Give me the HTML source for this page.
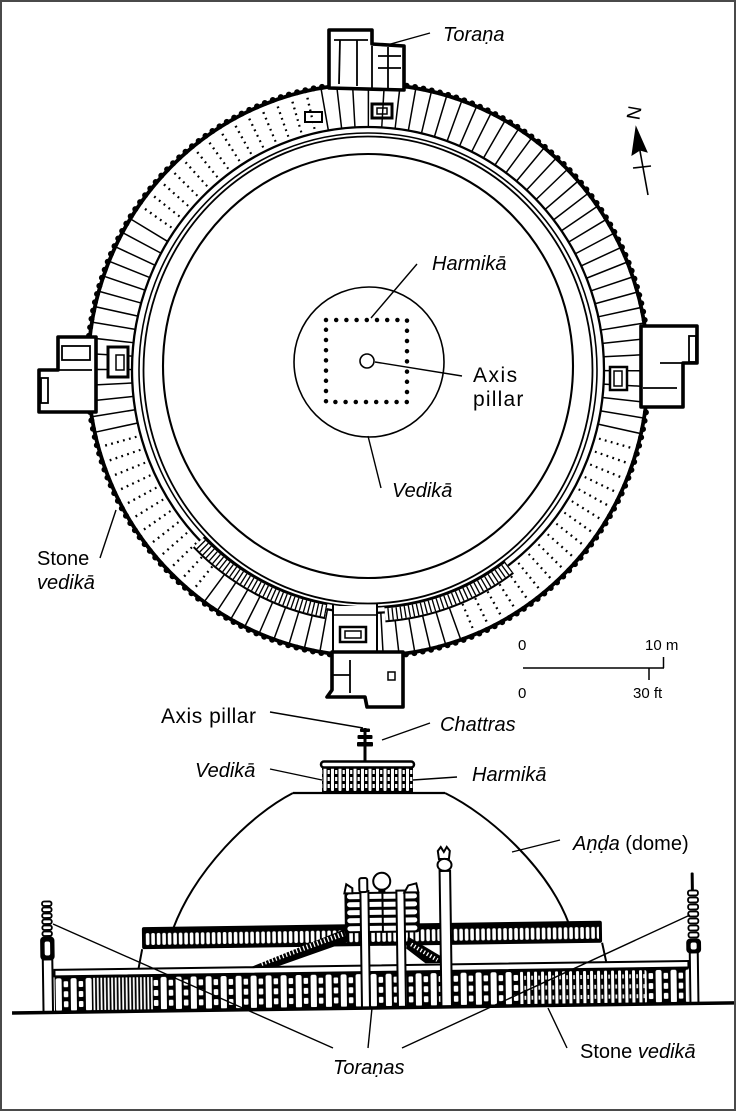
<!DOCTYPE html>
<html><head><meta charset="utf-8">
<style>
html,body{margin:0;padding:0;background:#fff;}
svg{display:block;}
text{font-family:"Liberation Sans","DejaVu Sans",sans-serif;fill:#000;}
.it{font-style:italic;}
</style></head><body>
<svg width="736" height="1111" viewBox="0 0 736 1111" xmlns="http://www.w3.org/2000/svg">
<defs>
 <mask id="mSolid" maskUnits="userSpaceOnUse" x="-400" y="-400" width="800" height="800">
  <ellipse rx="258" ry="264.5" fill="none" stroke="#fff" stroke-width="64" pathLength="360" stroke-dasharray="14 54 60 37 50 43 102"/>
 </mask>
 <mask id="mDot" maskUnits="userSpaceOnUse" x="-400" y="-400" width="800" height="800">
  <ellipse rx="258" ry="264.5" fill="none" stroke="#fff" stroke-width="64" pathLength="360" stroke-dasharray="0 14 54 60 37 50 43 102"/>
 </mask>
 <mask id="mStair" maskUnits="userSpaceOnUse" x="-400" y="-400" width="800" height="800">
  <ellipse rx="238" ry="245" fill="none" stroke="#fff" stroke-width="30" pathLength="360" stroke-dasharray="0 54 32 14 35 225"/>
 </mask>
 <pattern id="r1" patternUnits="userSpaceOnUse" x="55" y="972" width="15" height="36">
  <rect x="1" y="2" width="6" height="33" rx="2" fill="#fff"/>
  <rect x="9" y="5" width="4.5" height="6" rx="1" fill="#fff"/>
  <rect x="9" y="15" width="4.5" height="6" rx="1" fill="#fff"/>
  <rect x="9" y="25" width="4.5" height="6" rx="1" fill="#fff"/>
 </pattern>
 <pattern id="r2" patternUnits="userSpaceOnUse" x="93" y="972" width="3.6" height="36">
  <rect x="0.6" y="2" width="1.8" height="33" fill="#fff"/>
 </pattern>
 <pattern id="r3" patternUnits="userSpaceOnUse" x="520" y="972" width="7" height="36">
  <rect x="0.5" y="2" width="3" height="33" rx="1" fill="#fff"/>
  <rect x="4.7" y="6" width="1.6" height="4" fill="#fff"/>
  <rect x="4.7" y="16" width="1.6" height="4" fill="#fff"/>
  <rect x="4.7" y="26" width="1.6" height="4" fill="#fff"/>
 </pattern>
 <pattern id="r4" patternUnits="userSpaceOnUse" x="146" y="929" width="5.5" height="14">
  <rect x="0.8" y="1" width="3.6" height="12" rx="1.6" fill="#fff"/>
 </pattern>
 <pattern id="r5" patternUnits="userSpaceOnUse" x="323" y="767" width="7.5" height="25">
  <rect x="0.5" y="1" width="3" height="23" rx="1" fill="#fff"/>
  <rect x="4.6" y="3" width="2.2" height="4" fill="#fff"/>
  <rect x="4.6" y="10" width="2.2" height="4" fill="#fff"/>
  <rect x="4.6" y="17" width="2.2" height="4" fill="#fff"/>
 </pattern>
</defs>

<rect x="0" y="0" width="736" height="1111" fill="#fff"/>

<!-- ================= PLAN ================= -->
<g transform="translate(368,370)" fill="none" stroke="#000">
 <ellipse rx="258" ry="264.5" stroke-width="44" pathLength="360" stroke-dasharray="0.33 2.8843" mask="url(#mSolid)"/>
 <g mask="url(#mDot)" stroke-width="1.8" stroke-dasharray="0.5 2.7143">
  <ellipse rx="241.3" ry="248.2" pathLength="360"/>
  <ellipse rx="247.4" ry="254.2" pathLength="360"/>
  <ellipse rx="253.6" ry="260.2" pathLength="360"/>
  <ellipse rx="259.8" ry="266.2" pathLength="360"/>
  <ellipse rx="265.9" ry="272.2" pathLength="360"/>
  <ellipse rx="272.1" ry="278.3" pathLength="360"/>
 </g>
 <ellipse rx="280" ry="286" stroke-width="3.8"/>
 <ellipse rx="281" ry="287" stroke-width="6" stroke-dasharray="0 8.5" stroke-linecap="round"/>
 <ellipse rx="236" ry="243" stroke-width="2.3"/>
 <ellipse rx="229" ry="237" stroke-width="1.6"/>
 <ellipse rx="224.5" ry="233.5" stroke-width="1.8"/>
 <ellipse cx="0" cy="-4" rx="205" ry="212" stroke-width="2.1"/>
 <ellipse rx="238" ry="245" stroke="#fff" stroke-width="15" mask="url(#mStair)"/>
 <ellipse rx="238" ry="245" stroke-width="12" pathLength="360" stroke-dasharray="0.32 0.68" mask="url(#mStair)"/>
 <ellipse rx="231" ry="238" stroke-width="2" pathLength="360" stroke-dasharray="0 54 32 14 35 225"/>
 <ellipse rx="245" ry="252" stroke-width="2" pathLength="360" stroke-dasharray="0 54 32 14 35 225"/>
</g>

<!-- south landing -->
<rect x="334" y="606" width="43" height="46" fill="#fff"/>
<g fill="none" stroke="#000">
 <line x1="333" y1="604" x2="333" y2="655" stroke-width="2"/>
 <line x1="377" y1="604" x2="377" y2="655" stroke-width="2"/>
 <rect x="340" y="627" width="26" height="15" stroke-width="2.5"/>
 <rect x="345" y="631" width="16" height="7" stroke-width="1.5"/>
 <line x1="333" y1="615" x2="377" y2="615" stroke-width="1.5"/>
</g>

<!-- gates -->
<g fill="#fff" stroke="#000" stroke-width="3.6" stroke-linejoin="round">
 <polygon points="329,88 329,30 372,30 372,44 404,46 404,90"/>
 <polygon points="96,337 58,337 58,370 39,370 39,412 96,412"/>
 <polygon points="641,326 697,326 697,363 683,363 683,407 641,407"/>
 <polygon points="332,652 332,690 327,697 365,697 367,707 403,707 403,652"/>
</g>
<g fill="none" stroke="#000" stroke-width="1.8">
 <line x1="334" y1="40" x2="368" y2="40"/>
 <line x1="340" y1="40" x2="339" y2="84"/>
 <line x1="357" y1="40" x2="357" y2="86"/>
 <line x1="372" y1="46" x2="372" y2="88"/>
 <line x1="378" y1="56" x2="401" y2="56"/>
 <line x1="378" y1="68" x2="401" y2="68"/>
 <line x1="388" y1="47" x2="388" y2="88"/>
 <rect x="372" y="104" width="20" height="14" stroke-width="3"/>
 <rect x="377" y="108" width="10" height="6" stroke-width="1.5"/>
 <rect x="305" y="112" width="17" height="10" stroke-width="2"/>
 <rect x="62" y="346" width="28" height="14"/>
 <line x1="58" y1="370" x2="92" y2="370"/>
 <rect x="41" y="378" width="7" height="25"/>
 <rect x="108" y="347" width="20" height="30" stroke-width="3" fill="#fff"/>
 <rect x="116" y="355" width="8" height="15" stroke-width="1.5"/>
 <rect x="689" y="336" width="7" height="26"/>
 <line x1="643" y1="388" x2="677" y2="388"/>
 <line x1="660" y1="363" x2="683" y2="363"/>
 <rect x="610" y="367" width="17" height="23" stroke-width="2.5" fill="#fff"/>
 <rect x="614" y="371" width="8" height="15" stroke-width="1.5"/>
 <line x1="350" y1="660" x2="350" y2="693"/>
 <line x1="333" y1="675" x2="350" y2="675"/>
 <rect x="388" y="672" width="7" height="8" stroke-width="1.5"/>
</g>

<!-- vedika circle, harmika, axis -->
<circle cx="369" cy="362" r="75" fill="none" stroke="#000" stroke-width="1.6"/>
<rect x="326" y="320" width="81" height="82" fill="none" stroke="#000" stroke-width="4.5" stroke-dasharray="0 10.2" stroke-linecap="round"/>
<circle cx="367" cy="361" r="7" fill="#fff" stroke="#000" stroke-width="1.6"/>

<!-- plan leaders -->
<g stroke="#000" stroke-width="1.4" fill="none">
 <line x1="430" y1="33" x2="387" y2="45"/>
 <line x1="417" y1="264" x2="371" y2="318"/>
 <line x1="375" y1="362" x2="462" y2="376"/>
 <line x1="368" y1="436" x2="381" y2="488"/>
 <line x1="100" y1="558" x2="116" y2="510"/>
</g>

<!-- north arrow -->
<g stroke="#000" fill="#000">
 <line x1="638" y1="140" x2="648" y2="195" stroke-width="1.6"/>
 <polygon points="636,127 632,155 640,150 647,152" stroke-width="1"/>
 <line x1="633" y1="168" x2="651" y2="166" stroke-width="1.6"/>
</g>
<text x="635" y="113" font-size="19" text-anchor="middle" dominant-baseline="central" transform="rotate(-80 635 113)">N</text>

<!-- plan labels -->
<text class="it" x="443" y="41" font-size="20">Toraṇa</text>
<text class="it" x="432" y="270" font-size="20">Harmikā</text>
<text x="473" y="382" font-size="21" letter-spacing="1.5">Axis</text>
<text x="473" y="406" font-size="21" letter-spacing="1.2">pillar</text>
<text class="it" x="392" y="497" font-size="20">Vedikā</text>
<text x="37" y="565" font-size="20">Stone</text>
<text class="it" x="37" y="589" font-size="20">vedikā</text>

<!-- scale -->
<g stroke="#000" stroke-width="1.5">
 <line x1="523" y1="668" x2="664" y2="668"/>
 <line x1="663.5" y1="657" x2="663.5" y2="668"/>
 <line x1="649" y1="668" x2="649" y2="680"/>
</g>
<text x="518" y="650" font-size="15">0</text>
<text x="645" y="650" font-size="15">10 m</text>
<text x="518" y="698" font-size="15">0</text>
<text x="633" y="698" font-size="15">30 ft</text>

<!-- ================= ELEVATION ================= -->
<path d="M293,793 C250,815 195,870 173,929" fill="none" stroke="#000" stroke-width="2"/>
<path d="M445,793 C490,815 548,868 569,924" fill="none" stroke="#000" stroke-width="2"/>
<line x1="293" y1="793" x2="445" y2="793" stroke="#000" stroke-width="2.2"/>

<rect x="322" y="767" width="91" height="25" fill="#000"/>
<rect x="322" y="767" width="91" height="25" fill="url(#r5)"/>
<rect x="321" y="761.5" width="93" height="6" rx="3" fill="#fff" stroke="#000" stroke-width="2.5"/>
<g fill="#000">
 <rect x="363.5" y="728" width="3" height="34"/>
 <rect x="360" y="728.5" width="10" height="3.5" rx="1"/>
 <rect x="357.5" y="735" width="15" height="4" rx="1"/>
 <rect x="357" y="742" width="16" height="4.5" rx="1"/>
</g>

<g transform="rotate(-0.8 369 1008)">
 <line x1="143" y1="946" x2="139" y2="966" stroke="#000" stroke-width="2"/>
 <line x1="603" y1="946" x2="607" y2="966" stroke="#000" stroke-width="2"/>
 <rect x="143" y="924" width="460" height="22" rx="2" fill="#000"/>
 <rect x="146" y="929" width="454" height="14" fill="url(#r4)"/>
 <polygon points="250,966 345,929 350,929 350,941 276,966" fill="#000"/>
 <line x1="262" y1="962" x2="346" y2="933" stroke="#fff" stroke-width="5" stroke-dasharray="1.3 2.4"/>
 <polygon points="409,937 443,958 443,964 426,964 407,949" fill="#000"/>
 <line x1="412" y1="945" x2="438" y2="961" stroke="#fff" stroke-width="4" stroke-dasharray="1.3 2.4"/>
 <rect x="55" y="972" width="634" height="36" fill="#000"/>
 <rect x="55" y="972" width="38" height="36" fill="url(#r1)"/>
 <rect x="93" y="972" width="60" height="36" fill="url(#r2)"/>
 <rect x="153" y="972" width="367" height="36" fill="url(#r1)"/>
 <rect x="520" y="972" width="125" height="36" fill="url(#r3)"/>
 <rect x="645" y="972" width="44" height="36" fill="url(#r1)"/>
 <rect x="55" y="965.5" width="634" height="6.5" fill="#fff" stroke="#000" stroke-width="2"/>

 <rect x="346" y="892" width="75" height="41" rx="3" fill="#000"/>
 <g fill="#fff">
  <rect x="348.5" y="894" width="70" height="5" rx="2.5"/>
  <rect x="348.5" y="902" width="70" height="5" rx="2.5"/>
  <rect x="348.5" y="910" width="70" height="5" rx="2.5"/>
  <rect x="348.5" y="918" width="70" height="5" rx="2.5"/>
  <rect x="348.5" y="926" width="70" height="5" rx="2.5"/>
 </g>
 <line x1="384" y1="892" x2="384" y2="933" stroke="#000" stroke-width="2"/>
 <g fill="#fff" stroke="#000" stroke-width="2">
  <rect x="362" y="891" width="8" height="117"/>
  <rect x="398" y="891" width="8" height="117"/>
  <path d="M346,893 L348,884 L354,888 L354,893 Z"/>
  <rect x="361" y="878" width="8" height="14" rx="2"/>
  <path d="M406,893 L410,886 L418,884 L420,893 Z"/>
  <circle cx="383.5" cy="881.5" r="8.5"/>
 </g>
 <rect x="380" y="889" width="7" height="4" fill="#000"/>

 <g fill="#fff" stroke="#000" stroke-width="2">
  <path d="M440,852 L443,848 L446,853 L449,848 L452,852 L451,860 L441,860 Z"/>
  <ellipse cx="446.5" cy="866" rx="7" ry="6"/>
  <rect x="441.5" y="872" width="10.5" height="136"/>
 </g>

 <g fill="#fff" stroke="#000" stroke-width="1.8">
  <rect x="43.5" y="897" width="9.5" height="4.5" rx="2"/>
  <rect x="43.5" y="903" width="9.5" height="4.5" rx="2"/>
  <rect x="43.5" y="909" width="9.5" height="4.5" rx="2"/>
  <rect x="43.5" y="915" width="9.5" height="4.5" rx="2"/>
  <rect x="43.5" y="921" width="9.5" height="4.5" rx="2"/>
  <rect x="43.5" y="927" width="9.5" height="4.5" rx="2"/>
  <rect x="42" y="933" width="12.5" height="22" rx="3" fill="#000"/>
  <rect x="45.5" y="937" width="5.5" height="14" rx="2" stroke="none"/>
  <rect x="43.5" y="955" width="9.5" height="53" stroke-width="2"/>
 </g>

 <rect x="692.5" y="877" width="3" height="19" rx="1" fill="#000"/>
 <g fill="#fff" stroke="#000" stroke-width="1.8">
  <rect x="689.5" y="895" width="10" height="5" rx="2"/>
  <rect x="689.5" y="902" width="10" height="5" rx="2"/>
  <rect x="689.5" y="909" width="10" height="5" rx="2"/>
  <rect x="689.5" y="916" width="10" height="5" rx="2"/>
  <rect x="689.5" y="923" width="10" height="5" rx="2"/>
  <rect x="689.5" y="930" width="10" height="5" rx="2"/>
  <rect x="689.5" y="937" width="10" height="5" rx="2"/>
  <rect x="688" y="944" width="13" height="13" rx="3" fill="#000"/>
  <rect x="691.5" y="947" width="6" height="7" rx="2" stroke="none"/>
  <rect x="690.5" y="957" width="8" height="51" stroke-width="2"/>
 </g>

 <line x1="12" y1="1008" x2="746" y2="1008" stroke="#000" stroke-width="3.5"/>
</g>

<g stroke="#000" stroke-width="1.4" fill="none">
 <line x1="270" y1="712" x2="363" y2="728"/>
 <line x1="430" y1="723" x2="382" y2="740"/>
 <line x1="270" y1="769" x2="322" y2="780"/>
 <line x1="457" y1="777" x2="413" y2="780"/>
 <line x1="560" y1="840" x2="512" y2="852"/>
 <line x1="333" y1="1048" x2="53" y2="924"/>
 <line x1="368" y1="1048" x2="372" y2="1008"/>
 <line x1="402" y1="1048" x2="690" y2="915"/>
 <line x1="567" y1="1048" x2="548" y2="1008"/>
</g>

<text x="161" y="723" font-size="21" textLength="95">Axis pillar</text>
<text class="it" x="440" y="731" font-size="20">Chattras</text>
<text class="it" x="195" y="777" font-size="20">Vedikā</text>
<text class="it" x="472" y="781" font-size="20">Harmikā</text>
<text x="573" y="850" font-size="20"><tspan class="it">Aṇḍa</tspan> (dome)</text>
<text class="it" x="333" y="1074" font-size="20">Toraṇas</text>
<text x="580" y="1058" font-size="20">Stone <tspan class="it">vedikā</tspan></text>

<rect x="1" y="1" width="734" height="1109" fill="none" stroke="#4a4a4a" stroke-width="2"/>
</svg>
</body></html>
